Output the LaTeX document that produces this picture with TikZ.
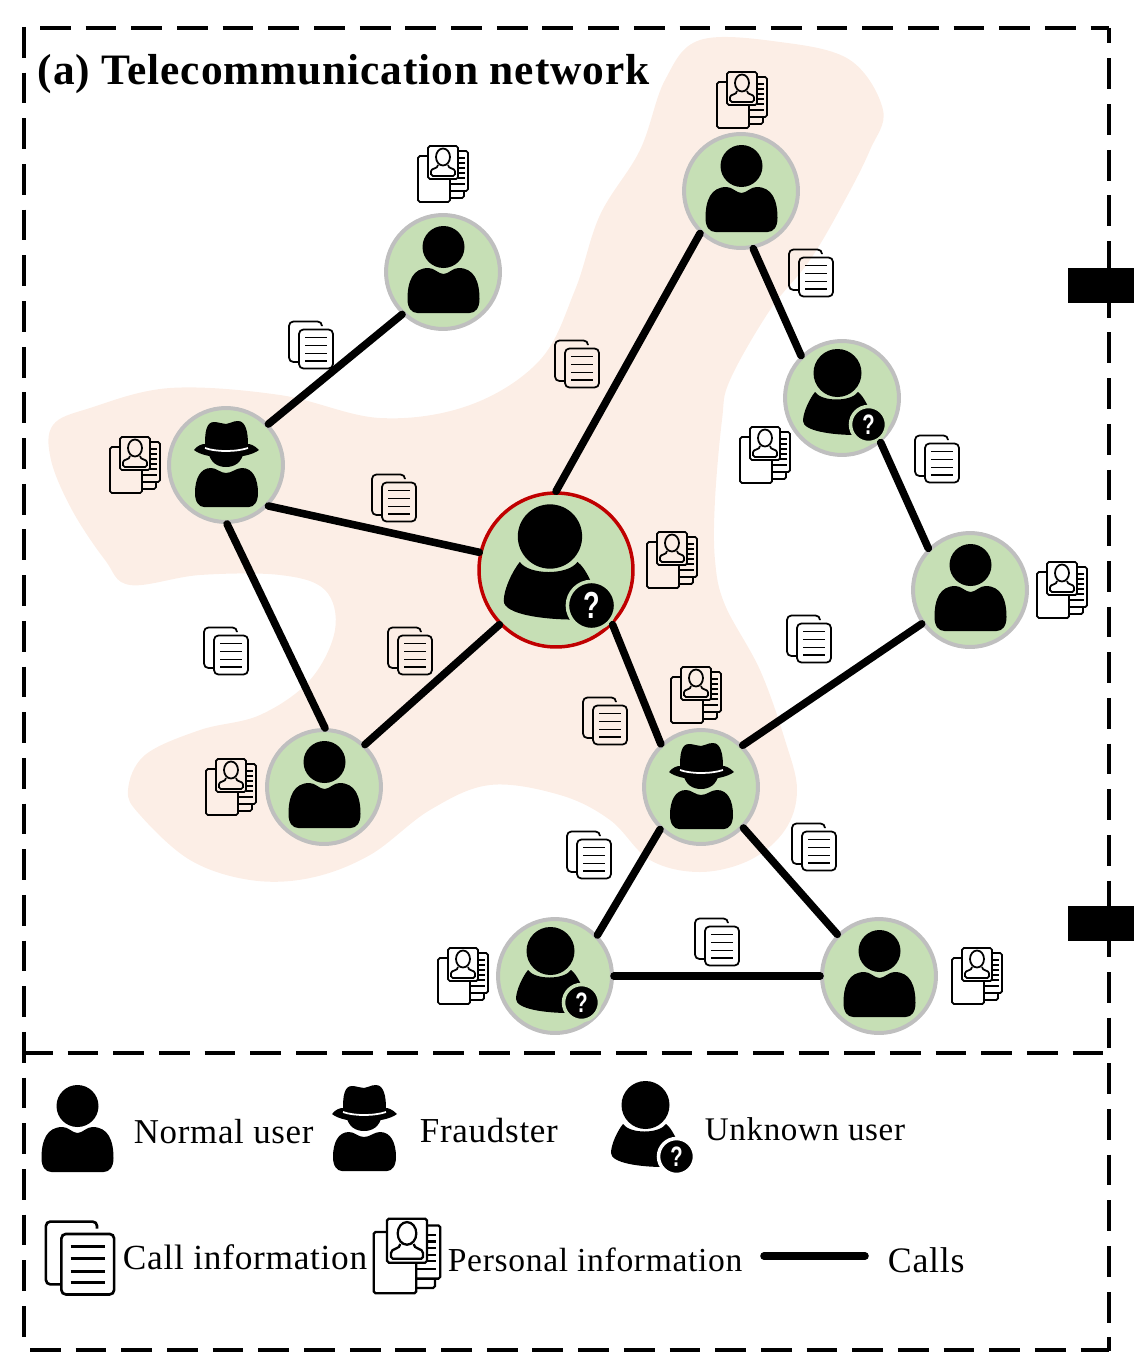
\documentclass[tikz,border=0pt]{standalone}
\usepackage{fontspec}
\setmainfont[LetterSpace=2]{Liberation Serif}
\newfontfamily\markfont{Liberation Sans}
\definecolor{usergreen}{HTML}{C6DFB5}
\definecolor{ringgrey}{HTML}{BFBFBF}
\definecolor{blobpink}{HTML}{FCEEE6}
\definecolor{targetred}{HTML}{C00000}
\tikzset{
    usernode/.style={circle, draw=ringgrey, fill=usergreen, line width=4*0.567pt, minimum size=2.28cm, inner sep=0pt},
    targetnode/.style={circle, draw=targetred, fill=usergreen, line width=3.5*0.567pt, minimum size=3.08cm, inner sep=0pt},
    callline/.style={line width=7.6*0.567pt, line cap=round},
    frameline/.style={line width=3.5*0.567pt, dash pattern=on 17.5pt off 8.5pt},
    legendtext/.style={anchor=base west, inner sep=0pt, font=\fontsize{#1}{24}\selectfont},
    titletext/.style={anchor=base west, inner sep=0pt, font=\fontsize{24.7}{28}\selectfont\bfseries},
    docline/.style={line width=1pt},
    largedoc/.style={scale=1.55, line width=1.5pt},
    largecard/.style={scale=1.33, line width=1.3pt},
    pics/usericon/.style={code={
        \fill (0.5,-25) circle[radius=21];
        \fill (0.5,2) .. controls (-4.5,2) and (-8.5,-4) .. (-14.5,-4) .. controls (-30,-4) and (-35.5,9) .. (-35.5,27)
            .. controls (-35.5,36) and (-31.5,41) .. (-25.5,41) -- (26.5,41) .. controls (32.5,41) and (36.5,36) .. (36.5,27)
            .. controls (36.5,9) and (31,-4) .. (15.5,-4) .. controls (9.5,-4) and (5.5,2) .. (0.5,2) -- cycle;
    }},
    pics/fraudicon/.style={code={
        \fill (-18,-14) .. controls (-16,-2) and (-8,2) .. (0,2) .. controls (8,2) and (16,-2) .. (18,-14) -- cycle;
        \fill (0,8) .. controls (-6,8) and (-9,3) .. (-15,3) .. controls (-26,3) and (-31,14) .. (-31,28)
            .. controls (-31,37) and (-27,42) .. (-22,42) -- (23,42) .. controls (28,42) and (32,37) .. (32,28)
            .. controls (32,14) and (27,3) .. (16,3) .. controls (10,3) and (6,8) .. (0,8) -- cycle;
        \fill (-32,-15) .. controls (-20,-5) and (20,-5) .. (33,-15) .. controls (28,-20) and (24,-21) .. (22,-21)
            .. controls (22,-32) and (20,-44) .. (12,-44) .. controls (6,-44) and (4,-41) .. (0,-41)
            .. controls (-4,-41) and (-7,-43) .. (-12,-43) .. controls (-20,-43) and (-21,-32) .. (-21,-21)
            .. controls (-24,-21) and (-28,-20) .. (-32,-15) -- cycle;
        \draw[white, line width=1pt] (-21,-17) .. controls (-10,-13) and (10,-13) .. (22,-17);
    }},
    pics/unknownicon/.style={code={
        \fill (-4.5,-25) circle[radius=24];
        \fill (-27,-6) .. controls (-20,4) and (9,4) .. (16,-6) .. controls (22,-2) and (30,15) .. (30,22)
            -- (14,37) .. controls (-10,37) and (-39,33) .. (-39,23) .. controls (-39,14) and (-32,0) .. (-27,-6) -- cycle;
        \draw[draw=#1, fill=black, line width=2pt] (26.5,26.5) circle[radius=18];
        \node[text=white, inner sep=0pt, transform shape, xscale=0.72, font=\fontsize{16}{16}\selectfont\markfont\bfseries] (mark) at (26.5,26.5) {?};
    }},
    pics/callinfo/.style={code={
        \draw[rounded corners=2.5pt] (11,-19) -- (11,-23.5) -- (-22,-23.5) -- (-22,17) -- (-12,17);
        \draw[rounded corners=2.5pt] (-12,-15.5) rectangle (22,23.5);
        \draw (-6,-7.5) -- (16,-7.5);
        \draw (-6,0.5) -- (16,0.5);
        \draw (-6,8.5) -- (16,8.5);
        \draw (-6,16) -- (16,16);
    }},
    pics/personinfo/.style={code={
        \draw[rounded corners=1pt] (-15,-18) -- (-25,-18) -- (-25,28) -- (7,28) -- (7,5);
        \draw[rounded corners=1pt] (-15,-28) rectangle (15,5);
        \draw[rounded corners=1pt] (15,-23) -- (25,-23) -- (25,17) -- (7,17);
        \draw[rounded corners=1pt] (21,17) -- (21,24) -- (7,24);
        \draw (15,-16) -- (22,-16);
        \draw (15,-11) -- (22,-11);
        \draw (15,-6) -- (22,-6);
        \draw (15,-1) -- (22,-1);
        \draw (15,4) -- (22,4);
        \draw (7,10) -- (22,10);
        \draw (0,-17) circle[x radius=7, y radius=8.5];
        \draw[rounded corners=1pt] (-5,-9) .. controls (-5,-5) and (-12,-6) .. (-12,-1) -- (-12,2) -- (12,2) -- (12,-1)
            .. controls (12,-6) and (5,-5) .. (5,-9);
    }},
}

\begin{document}
\begin{tikzpicture}[x=0.02cm, y=-0.02cm, docline]
    \useasboundingbox (0,0) rectangle (1134,1372);

    \fill[blobpink] plot[smooth cycle, tension=0.6] coordinates {
        (700,40) (780,42) (850,60) (883,110) (870,150) (845,200) (810,260) (770,310) (730,380) (722,420)
        (715,500) (715,560) (725,605) (760,670) (785,740) (797,790) (785,830) (750,860) (700,872) (650,860)
        (610,820) (560,795) (490,785) (430,810) (370,855) (310,878) (250,880) (190,860) (140,815) (128,790)
        (145,755) (200,730) (260,715) (310,680) (335,630) (325,590) (280,575) (200,575) (130,585) (105,560)
        (72,510) (51,460) (53,425) (90,408) (170,388) (280,395) (380,418) (470,405) (540,360) (575,290)
        (600,215) (640,150) (665,80)};

    % frame
    \draw[frameline] (40,28) -- (1109,28);
    \draw[frameline] (24,27) -- (24,1350);
    \draw[frameline, dash phase=8.7pt] (1109,28) -- (1109,1351);
    \draw[frameline] (30,1350) -- (1109,1350);
    \draw[frameline] (22,1053) -- (1109,1053);
    \fill (1068,268) rectangle (1134,303);
    \fill (1068,906) rectangle (1134,941);

    \node[titletext] (titlelabel) at (37,85) {(a) Telecommunication network};

    % users
    \node[usernode] (usera) at (443,272) {};
    \node[usernode] (fraudleft) at (226,465) {};
    \node[usernode] (usertop) at (741,191) {};
    \node[usernode] (unknownright) at (842,398) {};
    \node[targetnode] (target) at (556,570) {};
    \node[usernode] (userright) at (970,590) {};
    \node[usernode] (userleft) at (324,787) {};
    \node[usernode] (fraudmid) at (701,787) {};
    \node[usernode] (unknownlow) at (555,976) {};
    \node[usernode] (userlow) at (879,976) {};

    \pic at (usera) {usericon};
    \pic at (fraudleft) {fraudicon};
    \pic at (usertop) {usericon};
    \pic at (unknownright) {unknownicon=usergreen};
    \pic[scale=1.34] at (target) {unknownicon=usergreen};
    \pic at (userright) {usericon};
    \pic at (userleft) {usericon};
    \pic at (fraudmid) {fraudicon};
    \pic at (unknownlow) {unknownicon=usergreen};
    \pic at (userlow) {usericon};

    % calls
    \draw[callline] (usera.226) -- (fraudleft.44);
    \draw[callline] (fraudleft.-44) -- (target.167);
    \draw[callline] (fraudleft.-89) -- (userleft.89);
    \draw[callline] (userleft.46) -- (target.224);
    \draw[callline] (target.90) -- (usertop.226);
    \draw[callline] (usertop.-78) -- (unknownright.134);
    \draw[callline] (unknownright.-49) -- (userright.135);
    \draw[callline] (target.-44) -- (fraudmid.133);
    \draw[callline] (fraudmid.45) -- (userright.215);
    \draw[callline] (fraudmid.226) -- (unknownlow.44);
    \draw[callline] (fraudmid.-44) -- (userlow.135);
    \draw[callline] (unknownlow.0) -- (userlow.180);

    % call information
    \pic at (311,345) {callinfo};
    \pic at (577,364) {callinfo};
    \pic at (394,498) {callinfo};
    \pic at (226,651) {callinfo};
    \pic at (410,651) {callinfo};
    \pic at (809,639) {callinfo};
    \pic at (605,721) {callinfo};
    \pic at (589,855) {callinfo};
    \pic at (814,847) {callinfo};
    \pic at (717,942) {callinfo};
    \pic at (937,459) {callinfo};
    \pic at (811,273) {callinfo};

    % personal information
    \pic at (742,100) {personinfo};
    \pic at (443,174) {personinfo};
    \pic at (135,465) {personinfo};
    \pic at (765,455) {personinfo};
    \pic at (672,560) {personinfo};
    \pic at (1062,590) {personinfo};
    \pic at (696,695) {personinfo};
    \pic at (231,787) {personinfo};
    \pic at (463,976) {personinfo};
    \pic at (977,976) {personinfo};

    % legend
    \pic at (77,1131) {usericon};
    \pic at (364,1129) {fraudicon};
    \pic at (650,1130) {unknownicon=white};
    \pic[largedoc] at (80,1258) {callinfo};
    \pic[largecard] at (407,1256) {personinfo};
    \coordinate (legendstart) at (764,1256);
    \coordinate (legendend) at (865,1256);
    \draw[callline] (legendstart) -- (legendend);

    \node[legendtext=19.85] (normallabel) at (133,1143) {Normal user};
    \node[legendtext=19.95] (fraudlabel) at (419,1142) {Fraudster};
    \node[legendtext=18.8] (unknownlabel) at (704,1140) {Unknown user};
    \node[legendtext=20.1] (calllabel) at (122,1269) {Call information};
    \node[legendtext=19.1] (personlabel) at (447,1271) {Personal information};
    \node[legendtext=20.4] (callslabel) at (887,1272) {Calls};
\end{tikzpicture}
\end{document}
